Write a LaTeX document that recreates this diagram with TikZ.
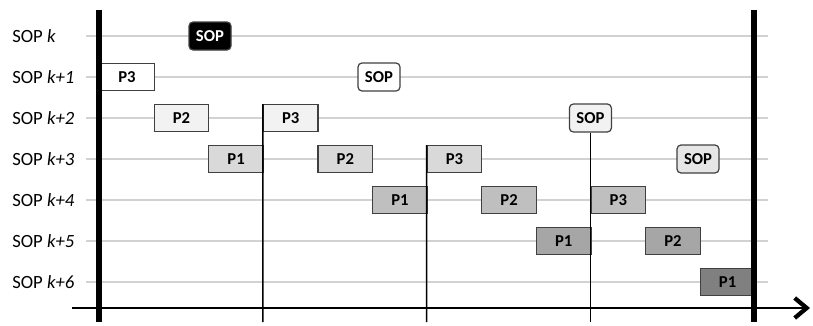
\documentclass[tikz,border=0pt]{standalone}
\usepackage{fontspec}
\setmainfont{Carlito}
\usepackage{xcolor}
\usetikzlibrary{arrows.meta,positioning}
\definecolor{gA}{HTML}{F2F2F2}
\definecolor{gB}{HTML}{D9D9D9}
\definecolor{gC}{HTML}{BFBFBF}
\definecolor{gD}{HTML}{A6A6A6}
\definecolor{gE}{HTML}{808080}
\definecolor{gS}{HTML}{E6E6E6}
\definecolor{edge}{HTML}{404040}
\tikzset{
    slotbox/.style={draw=edge, line width=0.9pt, minimum width=41pt, minimum height=20pt, inner sep=0pt, anchor=west, font=\fontsize{12.5}{14}\selectfont\bfseries}, % one process slot
    sopbox/.style={slotbox, anchor=center, rounded corners=3pt, minimum width=31.5pt, minimum height=21pt}, % start of period
    rowline/.style={draw=gray!35, line width=1.4pt},
    bound/.style={line width=4.2pt},
    tick/.style={line width=1.2pt},
}

\begin{document}
\begin{tikzpicture}[x=0.75pt,y=-0.75pt]
    \useasboundingbox (0,0) rectangle (813,325);
    % rows
    \foreach \r/\lab in {0/k,1/k+1,2/k+2,3/k+3,4/k+4,5/k+5,6/k+6} {
        \node[anchor=west, inner sep=0pt, font=\fontsize{14}{16}\selectfont] (lab\r) at (12,36+41*\r) {SOP \textit{\lab}};
        \coordinate (w\r) at (86,36+41*\r);
        \coordinate (e\r) at (768,36+41*\r);
        \draw[rowline] (w\r) -- (e\r);
    }

    % process slots
    \foreach \r/\s/\p/\c in {1/0/3/white, 2/1/2/gA, 2/3/3/gA, 3/2/1/gB, 3/4/2/gB, 3/6/3/gB,
            4/5/1/gC, 4/7/2/gC, 4/9/3/gC, 5/8/1/gD, 5/10/2/gD, 6/11/1/gE}
        \node[slotbox, fill=\c] (p\p r\r) at (99+54.6*\s,36+41*\r) {P\p};

    % SOP markers
    \node[sopbox, fill=black, text=white] (sop0) at (210,36) {SOP};
    \node[sopbox, fill=white] (sop1) at (379,77) {SOP};
    \node[sopbox, fill=gA] (sop2) at (590.4,118) {SOP};
    \node[sopbox, fill=gS] (sop3) at (698,159) {SOP};

    % time axis
    \coordinate (t0) at (72,308);
    \coordinate (t1) at (810,308);
    \draw[tick, -{Straight Barb[length=9pt,width=15pt,line width=3.2pt]}] (t0) -- (t1);

    % period marks
    \coordinate (b1) at (262.8,322);
    \coordinate (b2) at (426.6,322);
    \coordinate (b3) at (590.4,322);
    \draw[tick] (p3r2.north west) -- (b1);
    \draw[tick] (p3r3.north west) -- (b2);
    \draw[tick] (sop2.south) -- (b3);

    % frame
    \coordinate (lt) at (99,10);
    \coordinate (lb) at (99,322);
    \coordinate (rt) at (754,10);
    \coordinate (rb) at (754,322);
    \draw[bound] (lt) -- (lb);
    \draw[bound] (rt) -- (rb);
\end{tikzpicture}
\end{document}
